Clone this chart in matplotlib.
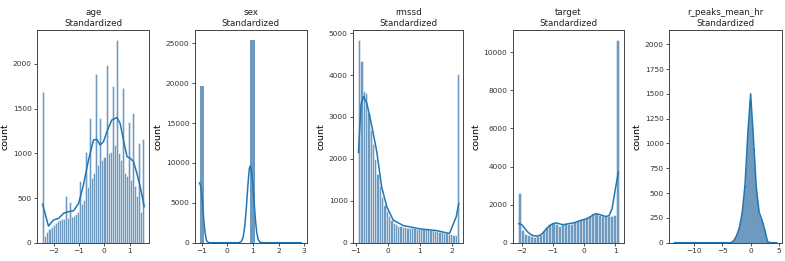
import numpy as np
import matplotlib
matplotlib.use("Agg")
import matplotlib.pyplot as plt

# column names shown in the titles
columnas = ["age", "sex", "rmssd", "target", "r_peaks_mean_hr"]

# --- age: 50 bins between -2.44 and 1.58
age_bordes = np.linspace(-2.44, 1.58, 51)
age_conteos = [1690, 80, 120, 150, 180, 200, 220, 240, 250, 260,
               270, 520, 280, 455, 290, 300, 320, 340, 690, 430,
               480, 1015, 620, 1390, 720, 780, 1890, 870, 1390, 930,
               960, 1985, 1000, 1020, 1750, 1090, 2265, 1000, 930, 1730,
               780, 750, 1350, 700, 1455, 640, 520, 1110, 340, 1165]
age_kde_x = [-2.43, -2.2, -2.0, -1.8, -1.6, -1.41, -1.21, -1.01, -0.82, -0.62,
             -0.42, -0.29, -0.16, -0.03, 0.13, 0.30, 0.50, 0.63, 0.76, 0.90,
             1.03, 1.16, 1.29, 1.42, 1.58]
age_kde_y = [430, 187, 254, 272, 330, 347, 358, 440, 645, 925,
             1150, 1157, 1093, 1130, 1260, 1373, 1400, 1335, 1150, 963,
             944, 906, 776, 627, 403]

# --- sex: 22 bins
sex_bordes = np.linspace(-1.08, 2.88, 23)
sex_conteos = [19650, 0, 0, 0, 0, 0, 0, 0, 0, 0, 0,
               25400, 0, 0, 0, 0, 0, 0, 0, 0, 0, 30]
sex_kde_x = [-1.08, -1.02, -0.98, -0.94, -0.90, -0.86, -0.82, -0.78, -0.70,
             0.45, 0.55, 0.62, 0.68, 0.74, 0.80, 0.86, 0.90, 0.95, 1.00,
             1.05, 1.10, 1.15, 1.20, 1.27, 1.35, 2.88]
sex_kde_y = [7500, 6900, 5500, 3800, 2200, 1100, 400, 120, 0,
             0, 150, 700, 2000, 4200, 7000, 9300, 9650, 9000, 7300,
             5000, 2800, 1300, 450, 80, 0, 0]

# --- rmssd: 44 bins
rmssd_bordes = np.linspace(-0.92, 2.22, 45)
rmssd_conteos = [4840, 4330, 3630, 3560, 3100, 2700, 2350, 2000, 1650, 1350,
                 1100, 900, 750, 630, 540, 480, 440, 410, 390, 375,
                 365, 355, 350, 345, 340, 335, 335, 330, 325, 320,
                 315, 305, 295, 285, 270, 260, 250, 240, 225, 210,
                 200, 185, 175, 4020]
rmssd_kde_x = [-0.91, -0.83, -0.75, -0.65, -0.49, -0.34, -0.19, -0.03, 0.17,
               0.48, 1.0, 1.51, 1.92, 2.13, 2.21]
rmssd_kde_y = [2150, 3300, 3490, 3330, 2770, 2170, 1340, 860, 540,
               410, 330, 290, 220, 620, 940]

# --- target: 33 bins
target_bordes = np.linspace(-2.13, 1.12, 34)
target_conteos = [2630, 650, 450, 380, 340, 320, 330, 420, 620, 850,
                  980, 1050, 1000, 900, 960, 1020, 1000, 1000, 1080, 1150,
                  1200, 1220, 1280, 1380, 1520, 1540, 1450, 1400, 1380, 1380,
                  1420, 1450, 10640]
target_kde_x = [-2.10, -2.0, -1.9, -1.8, -1.7, -1.6, -1.5, -1.4, -1.3, -1.2,
                -1.1, -1.0, -0.9, -0.8, -0.7, -0.6, -0.5, -0.4, -0.3, -0.2,
                -0.1, 0.0, 0.1, 0.2, 0.3, 0.4, 0.5, 0.6, 0.7, 0.8,
                0.9, 1.0, 1.1]
target_kde_y = [1000, 950, 750, 550, 420, 360, 350, 400, 550, 750,
                900, 1000, 1040, 1000, 950, 960, 1000, 1020, 1060, 1120,
                1180, 1220, 1280, 1360, 1480, 1520, 1480, 1420, 1380, 1420,
                1800, 2800, 3700]

# --- r_peaks_mean_hr: fine bins around the peak
hr_bordes = np.linspace(-3.5, 3.1, 34)
hr_conteos = [5, 10, 20, 35, 55, 80, 110, 150, 200, 260,
              340, 450, 580, 760, 980, 1200, 1420, 1510, 1400, 1180,
              950, 740, 560, 430, 340, 280, 250, 230, 200, 150,
              90, 40, 10]
hr_kde_x = [-13.5, -3.5, -3.0, -2.5, -2.0, -1.5, -1.0, -0.5, 0.0, 0.5,
            1.0, 1.5, 2.0, 2.5, 3.0, 3.5, 4.6]
hr_kde_y = [0, 0, 20, 70, 150, 300, 580, 1100, 1500, 1050,
            560, 310, 230, 130, 10, 0, 0]

datos = [
    (age_bordes, age_conteos, age_kde_x, age_kde_y),
    (sex_bordes, sex_conteos, sex_kde_x, sex_kde_y),
    (rmssd_bordes, rmssd_conteos, rmssd_kde_x, rmssd_kde_y),
    (target_bordes, target_conteos, target_kde_x, target_kde_y),
    (hr_bordes, hr_conteos, hr_kde_x, hr_kde_y),
]

limites_x = [(-2.64, 1.78), (-1.26, 3.1), (-1.07, 2.35), (-2.29, 1.28), (-14.4, 5.5)]
limites_y = [2380, 26670, 5075, 11175, 2144]
ticks_x = [[-2, -1, 0, 1], [-1, 0, 1, 2, 3], [-1, 0, 1, 2], [-2, -1, 0, 1], [-10, -5, 0, 5]]
ticks_y = [np.arange(0, 2001, 500), np.arange(0, 25001, 5000), np.arange(0, 5001, 1000),
           np.arange(0, 10001, 2000), np.arange(0, 2001, 250)]
bordes_px = [(37.3, 149.3), (195, 306.7), (353.3, 463.3), (512.7, 624), (669.3, 781.7)]
grosor_borde = [0.4, 0.0, 0.4, 0.4, 0.0]

fig = plt.figure(figsize=(7.85, 2.61), dpi=100)
color = '#1f77b4'

for i, (bordes, conteos, kx, ky) in enumerate(datos):
    x0, x1 = bordes_px[i]
    ax = fig.add_axes([x0 / 785, 18.3 / 261, (x1 - x0) / 785, 212.7 / 261])
    centros = (bordes[:-1] + bordes[1:]) / 2
    ax.hist(centros, bins=bordes, weights=conteos, color='#3f78ab', alpha=0.75,
            edgecolor='white', linewidth=grosor_borde[i])
    ax.plot(kx, ky, color=color, linewidth=1.1)
    ax.set_xlim(*limites_x[i])
    ax.set_ylim(0, limites_y[i])
    ax.set_xticks(ticks_x[i])
    ax.set_yticks(ticks_y[i])
    ax.tick_params(labelsize=5.3, length=2.5, width=0.6, pad=1.5, colors='#333333')
    ax.set_title(columnas[i] + "\nStandardized", fontsize=6.3, pad=3, color='#222222')
    ax.set_ylabel("count", fontsize=6.8, labelpad=2)
    for s in ax.spines.values():
        s.set_color('#444444')
        s.set_linewidth(0.7)

fig.savefig("out.png", dpi=100)
